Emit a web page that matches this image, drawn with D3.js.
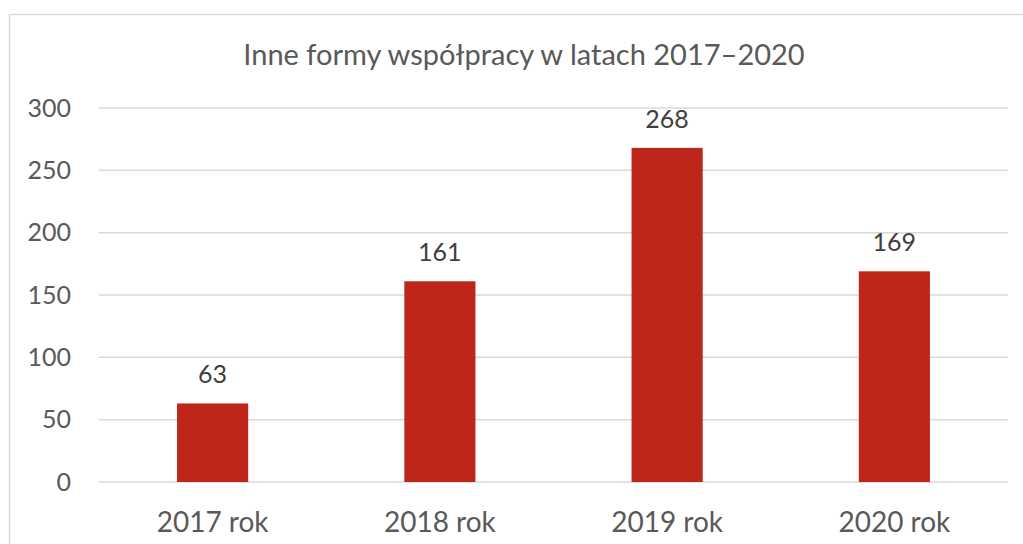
<!DOCTYPE html>
<html>
<head>
<meta charset="utf-8">
<script src="https://cdnjs.cloudflare.com/ajax/libs/d3/7.8.5/d3.min.js"></script>
<style>
  body { margin: 0; background: #ffffff; }
  svg { display: block; font-family: Lato, "Open Sans", sans-serif; }
</style>
</head>
<body>
<div id="chart"></div>
<script>
// Chart data
var years = ["2017 rok", "2018 rok", "2019 rok", "2020 rok"];
var counts = [63, 161, 268, 169];
var yTicks = [0, 50, 100, 150, 200, 250, 300];
var chartTitle = "Inne formy współpracy w latach 2017–2020";

var svgWidth = 1023;
var svgHeight = 544;

var margin = { top: 108, right: 15, bottom: 62, left: 99 };
var chartWidth = svgWidth - margin.left - margin.right;
var chartHeight = svgHeight - margin.top - margin.bottom;

var svg = d3.select("#chart")
    .append("svg")
    .attr("width", svgWidth)
    .attr("height", svgHeight);

// Outer chart frame (runs off the right and bottom edges)
svg.append("rect")
    .attr("x", 9.5)
    .attr("y", 14.5)
    .attr("width", 1030)
    .attr("height", 560)
    .attr("fill", "none")
    .attr("stroke", "#d9d9d9")
    .attr("stroke-width", 1.5);

var chartGroup = svg.append("g")
    .attr("transform", `translate(${margin.left}, ${margin.top})`);

var xScale = d3.scaleBand()
    .domain(years)
    .range([0, chartWidth])
    .paddingInner(0.687)
    .paddingOuter(0.3435);

var yScale = d3.scaleLinear()
    .domain([0, 300])
    .range([chartHeight, 0]);

// Gridlines
chartGroup.append("g")
    .selectAll("line")
    .data(yTicks)
    .enter()
    .append("line")
    .attr("x1", 0)
    .attr("x2", chartWidth)
    .attr("y1", d => yScale(d))
    .attr("y2", d => yScale(d))
    .attr("stroke", "#d9d9d9")
    .attr("stroke-width", 1.5);

// Y axis labels
var yAxis = d3.axisLeft(yScale).tickValues(yTicks).tickSize(0).tickPadding(28);
chartGroup.append("g")
    .attr("class", "y")
    .call(yAxis)
    .call(g => g.select(".domain").remove())
    .selectAll("text")
    .attr("fill", "#595959")
    .attr("font-size", 25)
    .attr("font-family", "Lato, sans-serif");

// X axis labels
var xAxis = d3.axisBottom(xScale).tickSize(0).tickPadding(30);
chartGroup.append("g")
    .attr("class", "x")
    .attr("transform", "translate(0, " + chartHeight + ")")
    .call(xAxis)
    .call(g => g.select(".domain").remove())
    .selectAll("text")
    .attr("fill", "#595959")
    .attr("font-size", 28)
    .attr("font-family", "Lato, sans-serif");

// Bars
chartGroup.selectAll("rect.bar")
    .data(counts)
    .enter()
    .append("rect")
    .attr("class", "bar")
    .attr("x", (d, i) => xScale(years[i]))
    .attr("y", d => yScale(d))
    .attr("width", xScale.bandwidth())
    .attr("height", d => chartHeight - yScale(d))
    .attr("fill", "#bd2619");

// Value labels
chartGroup.selectAll("text.value")
    .data(counts)
    .enter()
    .append("text")
    .attr("class", "value")
    .attr("text-anchor", "middle")
    .attr("x", (d, i) => xScale(years[i]) + xScale.bandwidth() / 2)
    .attr("y", d => yScale(d) - 20)
    .attr("fill", "#404040")
    .attr("font-size", 25)
    .text(d => d);

// Title
svg.append("text")
    .attr("x", 524)
    .attr("y", 65)
    .attr("text-anchor", "middle")
    .attr("fill", "#595959")
    .attr("font-size", 29)
    .text(chartTitle);
</script>
</body>
</html>
